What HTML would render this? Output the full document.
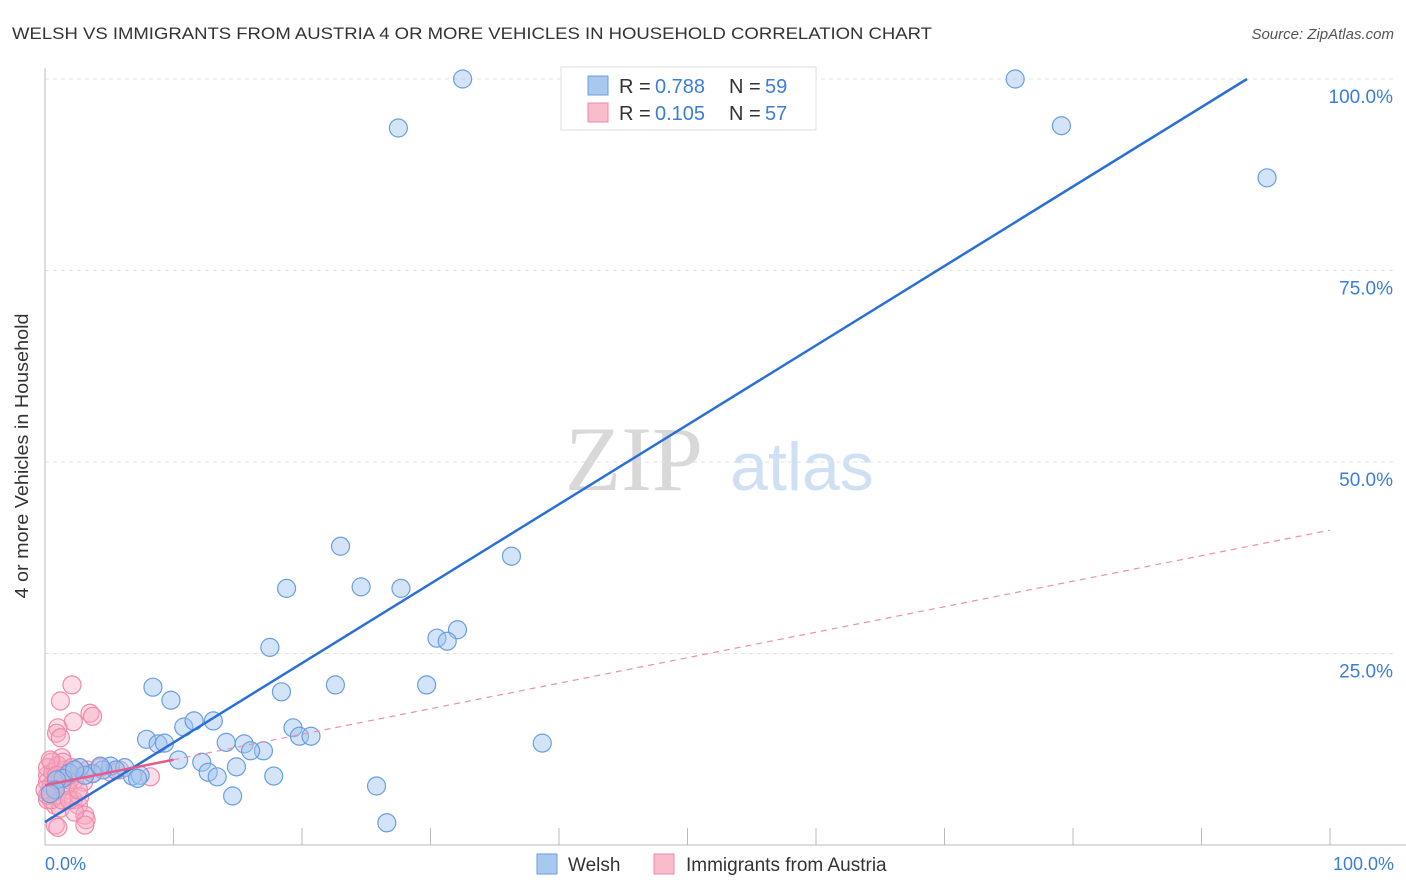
<!DOCTYPE html>
<html><head><meta charset="utf-8"><style>
body{margin:0;background:#fff;font-family:"Liberation Sans",sans-serif;}
svg{display:block}
</style></head><body>
<svg width="1406" height="892" xmlns="http://www.w3.org/2000/svg">
<text x="12" y="39" font-size="17" fill="#333" textLength="920" lengthAdjust="spacingAndGlyphs">WELSH VS IMMIGRANTS FROM AUSTRIA 4 OR MORE VEHICLES IN HOUSEHOLD CORRELATION CHART</text>
<text x="1394" y="39" font-size="15" fill="#555" font-style="italic" text-anchor="end">Source: ZipAtlas.com</text>
<text x="634" y="490" font-size="92" fill="#d8d8d8" font-family="Liberation Serif,serif" text-anchor="middle">ZIP</text>
<text x="802" y="490" font-size="68" fill="#cfe0f5" text-anchor="middle">atlas</text>
<g id="grid"></g>
<line x1="45" y1="68" x2="45" y2="845" stroke="#bbb"/>
<line x1="45" y1="845" x2="1406" y2="845" stroke="#bbb"/>
<g id="ticks"></g>
<text x="28" y="456" font-size="18" fill="#333" text-anchor="middle" textLength="285" lengthAdjust="spacingAndGlyphs" transform="rotate(-90 28 456)">4 or more Vehicles in Household</text>
<text x="45" y="870" font-size="18" fill="#3b7dd8">0.0%</text>
<text x="1394" y="870" font-size="18" fill="#3b7dd8" text-anchor="end">100.0%</text>
<g id="pts"></g>
<g id="lines"></g>
<g>
<rect x="561" y="67" width="255" height="63" fill="#fff" stroke="#ddd"/>
<rect x="588" y="76" width="20" height="19" fill="#a8c8f0" stroke="#6a9ee0"/>
<rect x="588" y="103" width="20" height="19" fill="#f8bccd" stroke="#f08aa8"/>
<text y="93" font-size="20" fill="#333"><tspan x="619">R =</tspan><tspan x="655" fill="#3b7dd8">0.788</tspan><tspan x="729">N =</tspan><tspan x="765" fill="#3b7dd8">59</tspan></text>
<text y="120" font-size="20" fill="#333"><tspan x="619">R =</tspan><tspan x="655" fill="#3b7dd8">0.105</tspan><tspan x="729">N =</tspan><tspan x="765" fill="#3b7dd8">57</tspan></text>
</g>
<rect x="537" y="854" width="20" height="20" fill="#a8c8f0" stroke="#6a9ee0"/>
<text x="568" y="871" font-size="19" fill="#333">Welsh</text>
<rect x="654" y="854" width="20" height="20" fill="#f8bccd" stroke="#f08aa8"/>
<text x="686" y="871" font-size="19" fill="#333">Immigrants from Austria</text>
</svg>
<script>
const yTicks=[25,50,75,100];
const yTickLabels=["25.0%","50.0%","75.0%","100.0%"];
const xTicks=[10,20,30,40,50,60,70,80,90,100];
const welshX=[32.5,27.5,75.5,79.1,95.1,23.0,36.3,18.8,24.6,27.7,32.1,30.5,31.3,17.5,29.7,22.6,18.4,8.4,9.8,10.8,11.6,13.1,19.3,19.8,20.7,7.9,8.8,9.3,14.1,15.5,38.7,17.0,16.0,10.4,12.2,12.7,13.4,14.9,17.8,25.8,14.6,26.6,5.1,6.2,6.8,7.4,7.2,5.5,4.5,3.7,2.7,1.9,1.4,0.9,0.8,0.4,3.1,2.3,4.3];
const welshY=[100,93.6,100,93.9,87.1,39.0,37.7,33.5,33.7,33.5,28.1,27.0,26.6,25.8,20.9,20.9,20.0,20.6,18.9,15.4,16.2,16.2,15.3,14.2,14.2,13.8,13.2,13.3,13.4,13.2,13.3,12.3,12.3,11.1,10.8,9.5,8.9,10.2,9.0,7.7,6.4,2.9,10.3,10.1,9.0,9.1,8.7,9.8,9.8,9.3,10.1,9.4,8.7,8.5,7.2,6.7,9.1,9.8,10.3];
const ausX=[2.1,1.2,3.5,3.7,2.2,1.0,0.9,1.2,0.5,0.8,0.2,0.4,0.2,1.3,1.6,1.9,1.8,2.7,2.3,3.0,3.3,3.7,4.3,5.1,8.2,5.8,0.8,1.2,0.5,2.2,2.6,2.7,3.1,3.2,0.8,1.0,2.3,0.2,0.5,0.9,1.3,1.6,1.9,0.2,0.6,1.0,1.4,1.7,2.1,1.2,0.4,0.9,0,0.2,1.9,2.6,3.1];
const ausY=[20.9,18.8,17.2,16.8,16.1,15.3,14.6,14.0,10.8,9.8,9.1,7.2,5.9,11.4,9.8,9.1,7.2,10.1,8.5,8.2,9.8,9.4,10.1,9.5,8.9,9.8,5.2,4.8,5.9,5.9,5.2,6.3,3.9,3.3,2.6,2.3,4.3,8.2,7.8,6.5,5.9,7.8,8.5,10.1,9.5,10.4,10.8,9.1,10.1,8.7,11.1,9.1,7.2,6.5,5.9,7.2,2.6];
const welshTrend=[3.0,1.037];
const ausTrend=[7.8,0.333];
const ausSolidEnd=10;
const NS="http://www.w3.org/2000/svg";
const sx=v=>45+v*12.85, sy=v=>845-v*7.66;
function mk(t,a,p){const e=document.createElementNS(NS,t);for(const k in a)e.setAttribute(k,a[k]);p.appendChild(e);return e;}
const grid=document.getElementById('grid'),ticks=document.getElementById('ticks');
yTicks.forEach((v,i)=>{
 const l=mk('line',{x1:45,x2:1395,y1:sy(v),y2:sy(v),stroke:'#e2e2e2','stroke-dasharray':'4,4'},grid);
 
 
 const t=mk('text',{x:1393,y:sy(v)+24,'font-size':19,fill:'#3b7dd8','text-anchor':'end'},grid);
 t.textContent=yTickLabels[i];
 
 
});
xTicks.forEach(v=>{
 const l=mk('line',{x1:sx(v),x2:sx(v),y1:828,y2:845,stroke:'#bbb'},ticks);
 
 
});
const pts=document.getElementById('pts');
ausX.forEach((x,i)=>{
 const c=mk('circle',{cx:sx(x),cy:sy(ausY[i]),r:9,fill:'rgba(248,170,195,0.4)',stroke:'#f08aa8','stroke-width':1.2},pts);
 
 
});
welshX.forEach((x,i)=>{
 const c=mk('circle',{cx:sx(x),cy:sy(welshY[i]),r:9,fill:'rgba(160,196,240,0.45)',stroke:'#6a9ee0','stroke-width':1.2},pts);
 
 
});
const lines=document.getElementById('lines');
const wEnd=(100-welshTrend[0])/welshTrend[1];
const wl=mk('line',{x1:sx(0),y1:sy(welshTrend[0]),x2:sx(wEnd),y2:sy(100),stroke:'#2a6fd6','stroke-width':2.5},lines);


const ad=mk('line',{x1:sx(ausSolidEnd),y1:sy(ausTrend[0]+ausTrend[1]*ausSolidEnd),x2:sx(100),y2:sy(ausTrend[0]+ausTrend[1]*100),stroke:'#ec8fab','stroke-width':1.2,'stroke-dasharray':'6,5'},lines);


const as=mk('line',{x1:sx(0),y1:sy(ausTrend[0]),x2:sx(ausSolidEnd),y2:sy(ausTrend[0]+ausTrend[1]*ausSolidEnd),stroke:'#e65b88','stroke-width':2.5},lines);


</script>
</body></html>
